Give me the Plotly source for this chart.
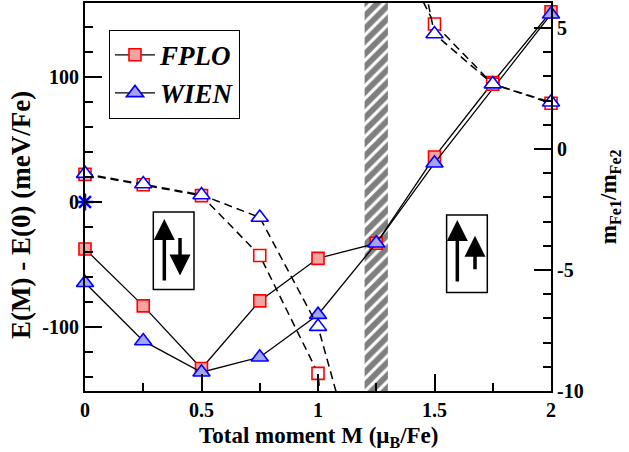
import plotly.graph_objects as go

# ---------------- data ----------------
moment = [0, 0.25, 0.5, 0.75, 1.0, 1.25, 1.5, 1.75, 2.0]
fplo_energy = [-37.5, -83, -133, -79, -45, -33, 36, 95.5, 152]
wien_moment = [0, 0.25, 0.5, 0.75, 1.0, 1.25, 1.5, 2.0]
wien_energy = [-64.5, -111, -136, -124, -90, -33, 31, 150]

# moment ratio m_Fe1/m_Fe2 (diverges near M ~ 1.25: two branches)
ratio_x_lo = [0, 0.25, 0.5, 0.75, 1.0, 1.25]
fplo_ratio_lo = [-1.05, -1.48, -1.93, -4.4, -9.27, -35]
wien_ratio_lo = [-1.02, -1.45, -1.9, -2.83, -7.34, -16]
ratio_x_hi = [1.25, 1.5, 1.75, 2.0]
fplo_ratio_hi = [9.9, 5.16, 2.68, 1.89]
wien_ratio_hi = [16.5, 4.75, 2.68, 1.93]

ref_point_x = [0]
ref_point_e = [0]

band = [1.2, 1.3]
e_range = [-151, 159]
r_range = [-10, 6.03]

x_tickvals = [0, 0.5, 1, 1.5, 2]
x_ticktext = ["0", "0.5", "1", "1.5", "2"]
e_tickvals = [-100, 0, 100]
e_ticktext = ["-100", "0", "100"]
r_tickvals = [-10, -5, 0, 5]
r_ticktext = ["-10", "-5", "0", "5"]

x_title = "Total moment M (μ<sub>B</sub>/Fe)"
y_title = "E(M) - E(0) (meV/Fe)"
y2_title = "m<sub>Fe1</sub>/m<sub>Fe2</sub>"

FONT = "Liberation Serif, Times New Roman, Times, serif"
RED = "#ff0000"
BLUE = "#0000ff"
RED_FILL = "#f4a2a2"
BLUE_FILL = "#a4a4f0"

fig = go.Figure()

# hatched band
fig.add_trace(go.Scatter(
    x=[band[0], band[1], band[1], band[0], band[0]],
    y=[e_range[0], e_range[0], e_range[1], e_range[1], e_range[0]],
    mode="lines", fill="toself", line=dict(width=0, color="black"),
    fillcolor="white",
    fillpattern=dict(shape="/", fgcolor="black", bgcolor="white", size=9, solidity=0.65),
    showlegend=False, hoverinfo="skip"))

def ratio_trace(x, y, symbol, color, size):
    return go.Scatter(
        x=x, y=y, yaxis="y2", mode="lines+markers",
        line=dict(color="black", width=1.5, dash="8px,5px"),
        marker=dict(symbol=symbol, size=size, color="white", line=dict(color=color, width=1.6)),
        cliponaxis=False, showlegend=False)

fig.add_trace(ratio_trace(ratio_x_lo, fplo_ratio_lo, "square", RED, 12))
fig.add_trace(ratio_trace(ratio_x_hi, fplo_ratio_hi, "square", RED, 12))

fig.add_trace(go.Scatter(
    x=moment, y=fplo_energy, mode="lines+markers", name="FPLO",
    line=dict(color="black", width=1.3),
    marker=dict(symbol="square", size=12, color=RED_FILL, line=dict(color=RED, width=1.6)),
    cliponaxis=False))

fig.add_trace(ratio_trace(ratio_x_lo, wien_ratio_lo, "triangle-up", BLUE, 15))
fig.add_trace(ratio_trace(ratio_x_hi, wien_ratio_hi, "triangle-up", BLUE, 15))

fig.add_trace(go.Scatter(
    x=wien_moment, y=wien_energy, mode="lines+markers", name="WIEN",
    line=dict(color="black", width=1.3),
    marker=dict(symbol="triangle-up", size=15, color=BLUE_FILL, line=dict(color=BLUE, width=1.6)),
    cliponaxis=False))

fig.add_trace(go.Scatter(
    x=ref_point_x, y=ref_point_e, mode="markers",
    marker=dict(symbol="asterisk-open", size=14, color=BLUE, line=dict(color=BLUE, width=2.5)),
    cliponaxis=False, showlegend=False))

tickfont = dict(family=FONT, size=20, color="black", weight="bold")

fig.update_layout(
    width=629, height=452,
    margin=dict(l=85, r=78, t=1, b=61),
    paper_bgcolor="white", plot_bgcolor="white",
    font=dict(family=FONT),
    xaxis=dict(
        range=[0, 2], tickmode="array", tickvals=x_tickvals, ticktext=x_ticktext,
        ticks="inside", ticklen=17, tickwidth=2, tickcolor="black",
        minor=dict(ticks="inside", dtick=0.25, tick0=0, ticklen=8, tickwidth=1.5, tickcolor="black"),
        showline=True, linewidth=2, linecolor="black", mirror=True,
        showgrid=False, zeroline=False, tickfont=tickfont,
    ),
    yaxis=dict(
        range=e_range, tickmode="array", tickvals=e_tickvals, ticktext=e_ticktext,
        ticks="inside", ticklen=17, tickwidth=2, tickcolor="black",
        minor=dict(ticks="inside", dtick=20, tick0=0, ticklen=8, tickwidth=1.5, tickcolor="black"),
        showline=True, linewidth=2, linecolor="black",
        showgrid=False, zeroline=False, tickfont=tickfont,
    ),
    yaxis2=dict(
        range=r_range, overlaying="y", side="right", anchor="x",
        tickmode="array", tickvals=r_tickvals, ticktext=r_ticktext,
        ticks="inside", ticklen=17, tickwidth=2, tickcolor="black",
        minor=dict(ticks="inside", dtick=1, tick0=0, ticklen=8, tickwidth=1.5, tickcolor="black"),
        showline=True, linewidth=2, linecolor="black",
        showgrid=False, zeroline=False, tickfont=tickfont,
    ),
    legend=dict(
        x=0.0515, y=0.931, xanchor="left", yanchor="top",
        bgcolor="white", bordercolor="black", borderwidth=1,
        font=dict(family=FONT, size=27, color="black", weight="bold", style="italic"),
        itemwidth=40, tracegroupgap=0,
    ),
    showlegend=True,
)

# axis titles
fig.add_annotation(text=x_title, xref="paper", yref="paper", x=0.502, y=-0.118,
                   xanchor="center", yanchor="middle", showarrow=False,
                   font=dict(family=FONT, size=23, color="black", weight="bold"))
fig.add_annotation(text=y_title, xref="paper", yref="paper", x=-0.137, y=0.454,
                   xanchor="center", yanchor="middle", showarrow=False, textangle=-90,
                   font=dict(family=FONT, size=27, color="black", weight="bold"))
fig.add_annotation(text=y2_title, xref="paper", yref="paper", x=1.127, y=0.50,
                   xanchor="center", yanchor="middle", showarrow=False, textangle=-90,
                   font=dict(family=FONT, size=23, color="black", weight="bold"))

# spin configuration boxes
boxes = [(0.1466, 0.2339, 0.2615, 0.4615), (0.776, 0.8633, 0.2538, 0.4538)]
for x0, x1, y0, y1 in boxes:
    fig.add_shape(type="rect", xref="paper", yref="paper", x0=x0, x1=x1, y0=y0, y1=y1,
                  line=dict(color="black", width=1.5), fillcolor="rgba(0,0,0,0)")

arrows = [  # (x, head_y, tail offset px)
    (0.1702, 0.4436, 63),
    (0.2039, 0.2974, -39),
    (0.799, 0.441, 63),
    (0.8369, 0.400, 35),
]
for x, y, ay in arrows:
    fig.add_annotation(x=x, y=y, xref="paper", yref="paper", ax=0, ay=ay,
                       showarrow=True, arrowhead=2, arrowsize=1.2, arrowwidth=3.5,
                       arrowcolor="black", text="")

fig.write_html("out.html")
